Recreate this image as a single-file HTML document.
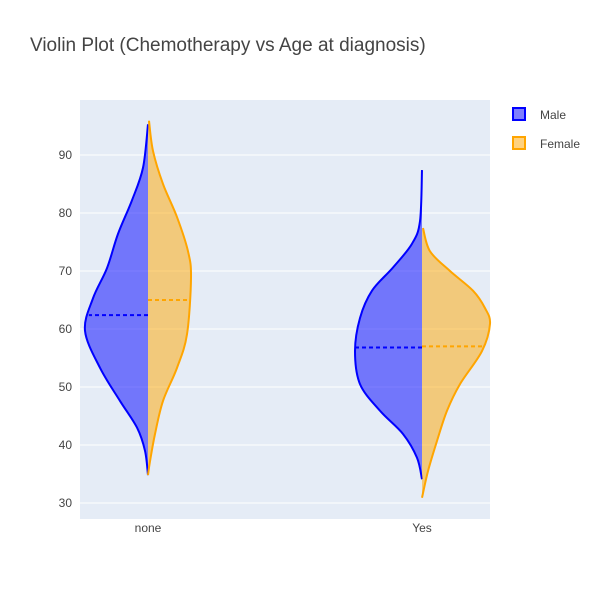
<!DOCTYPE html>
<html><head><meta charset="utf-8"><style>
body{margin:0;background:#fff;font-family:"Liberation Sans",sans-serif;}
svg text{font-family:"Liberation Sans",sans-serif;}
</style></head><body>
<svg id="c" width="600" height="600">
<rect x="0" y="0" width="600" height="600" fill="#fff"/>
<rect x="80" y="100" width="410" height="419" fill="#e5ecf6"/>
<g id="grid"></g>
<g id="violins"></g>
<text x="30" y="51" font-size="19" fill="#444">Violin Plot (Chemotherapy vs Age at diagnosis)</text>
<g>
<g><rect x="513" y="108" width="12" height="12" fill="rgba(0,0,255,0.5)" stroke="#00f" stroke-width="2"/><text x="540" y="119" font-size="12" fill="#444">Male</text></g>
<g><rect x="513" y="137" width="12" height="12" fill="rgba(255,165,0,0.5)" stroke="orange" stroke-width="2"/><text x="540" y="148" font-size="12" fill="#444">Female</text></g>
</g>
</svg>
<script>
const categories=["none","Yes"];
const yTicks=[30,40,50,60,70,80,90];
const maleNoneAges=[95.3,87.8,82.2,76.4,70.5,65.3,59.7,53.3,47.6,43.0,39.0,34.8];
const maleNoneDens=[0,5,16,30,41,55,63,48,28,11,3,0];
const femaleNoneAges=[95.9,90.7,85.0,79.3,73.4,68.8,59.1,53.3,47.6,41.9,37.2,34.8];
const femaleNoneDens=[1,5,15,29,40,43,39,29,15,7,2,0];
const maleYesAges=[87.4,78.6,74.7,70.6,66.6,61.9,56.2,50.5,45.9,41.9,37.8,34.1];
const maleYesDens=[0,2,10,29,50,62,67,62,42,19,5,0];
const femaleYesAges=[77.4,73.4,70.0,66.6,63.6,60.9,56.2,50.5,45.9,40.7,35.5,30.9];
const femaleYesDens=[1,8,28,51,63,68,60,38,25,15,6,0];
const medians=[62.4,65.0,56.8,57.0];
const NS="http://www.w3.org/2000/svg";
function yS(v){return 503-(v-30)*5.8;}
function xS(i){return 148+i*274;}
function el(t,a,p){const e=document.createElementNS(NS,t);for(const k in a)e.setAttribute(k,a[k]);p.appendChild(e);return e;}
const grid=document.getElementById('grid');
yTicks.forEach(t=>{
 const l=el('line',{x1:80,x2:490,y1:yS(t),y2:yS(t),stroke:'#fff','stroke-width':1},grid);
 
 
 const tx=el('text',{x:72,y:yS(t)+4,'text-anchor':'end','font-size':12,fill:'#444'},grid);
 tx.textContent=t;
 
 
});
categories.forEach((c,i)=>{
 const tx=el('text',{x:xS(i),y:532,'text-anchor':'middle','font-size':12,fill:'#444'},grid);
 tx.textContent=c;
 
 
});
function smoothPath(pts){
 let d='M'+pts[0][0]+','+pts[0][1];
 for(let i=0;i<pts.length-1;i++){
  const p0=pts[Math.max(0,i-1)],p1=pts[i],p2=pts[i+1],p3=pts[Math.min(pts.length-1,i+2)];
  const c1=[p1[0]+(p2[0]-p0[0])/6,p1[1]+(p2[1]-p0[1])/6];
  const c2=[p2[0]-(p3[0]-p1[0])/6,p2[1]-(p3[1]-p1[1])/6];
  d+=' C'+c1+' '+c2+' '+p2;
 }
 return d;
}
function interpW(ages,dens,v){
 for(let i=0;i<ages.length-1;i++){
  if(v<=ages[i]&&v>=ages[i+1]){const t=(ages[i]-v)/(ages[i]-ages[i+1]);return dens[i]+t*(dens[i+1]-dens[i]);}
 }return 0;
}
const vg=document.getElementById('violins');
const specs=[[0,maleNoneAges,maleNoneDens,-1,'#00f','rgba(0,0,255,0.5)','male-none'],
[0,femaleNoneAges,femaleNoneDens,1,'orange','rgba(255,165,0,0.5)','female-none'],
[1,maleYesAges,maleYesDens,-1,'#00f','rgba(0,0,255,0.5)','male-yes'],
[1,femaleYesAges,femaleYesDens,1,'orange','rgba(255,165,0,0.5)','female-yes']];
specs.forEach((s,k)=>{
 const [ci,ages,dens,side,col,fill,name]=s;
 const cx=xS(ci);
 const pts=ages.map((a,i)=>[cx+side*dens[i],yS(a)]);
 const d=smoothPath(pts);
 const f=el('path',{d:d+' L'+cx+','+yS(ages[ages.length-1])+' L'+cx+','+yS(ages[0])+' Z',fill:fill,stroke:'none'},vg);
 
 
 const o=el('path',{d:d,fill:'none',stroke:col,'stroke-width':2},vg);
 
 
 const m=medians[k];
 const w=interpW(ages,dens,m);
 const ml=el('line',{x1:cx,x2:cx+side*w,y1:yS(m),y2:yS(m),stroke:col,'stroke-width':2,'stroke-dasharray':'4,3'},vg);
 
 
});
</script>
</body></html>
